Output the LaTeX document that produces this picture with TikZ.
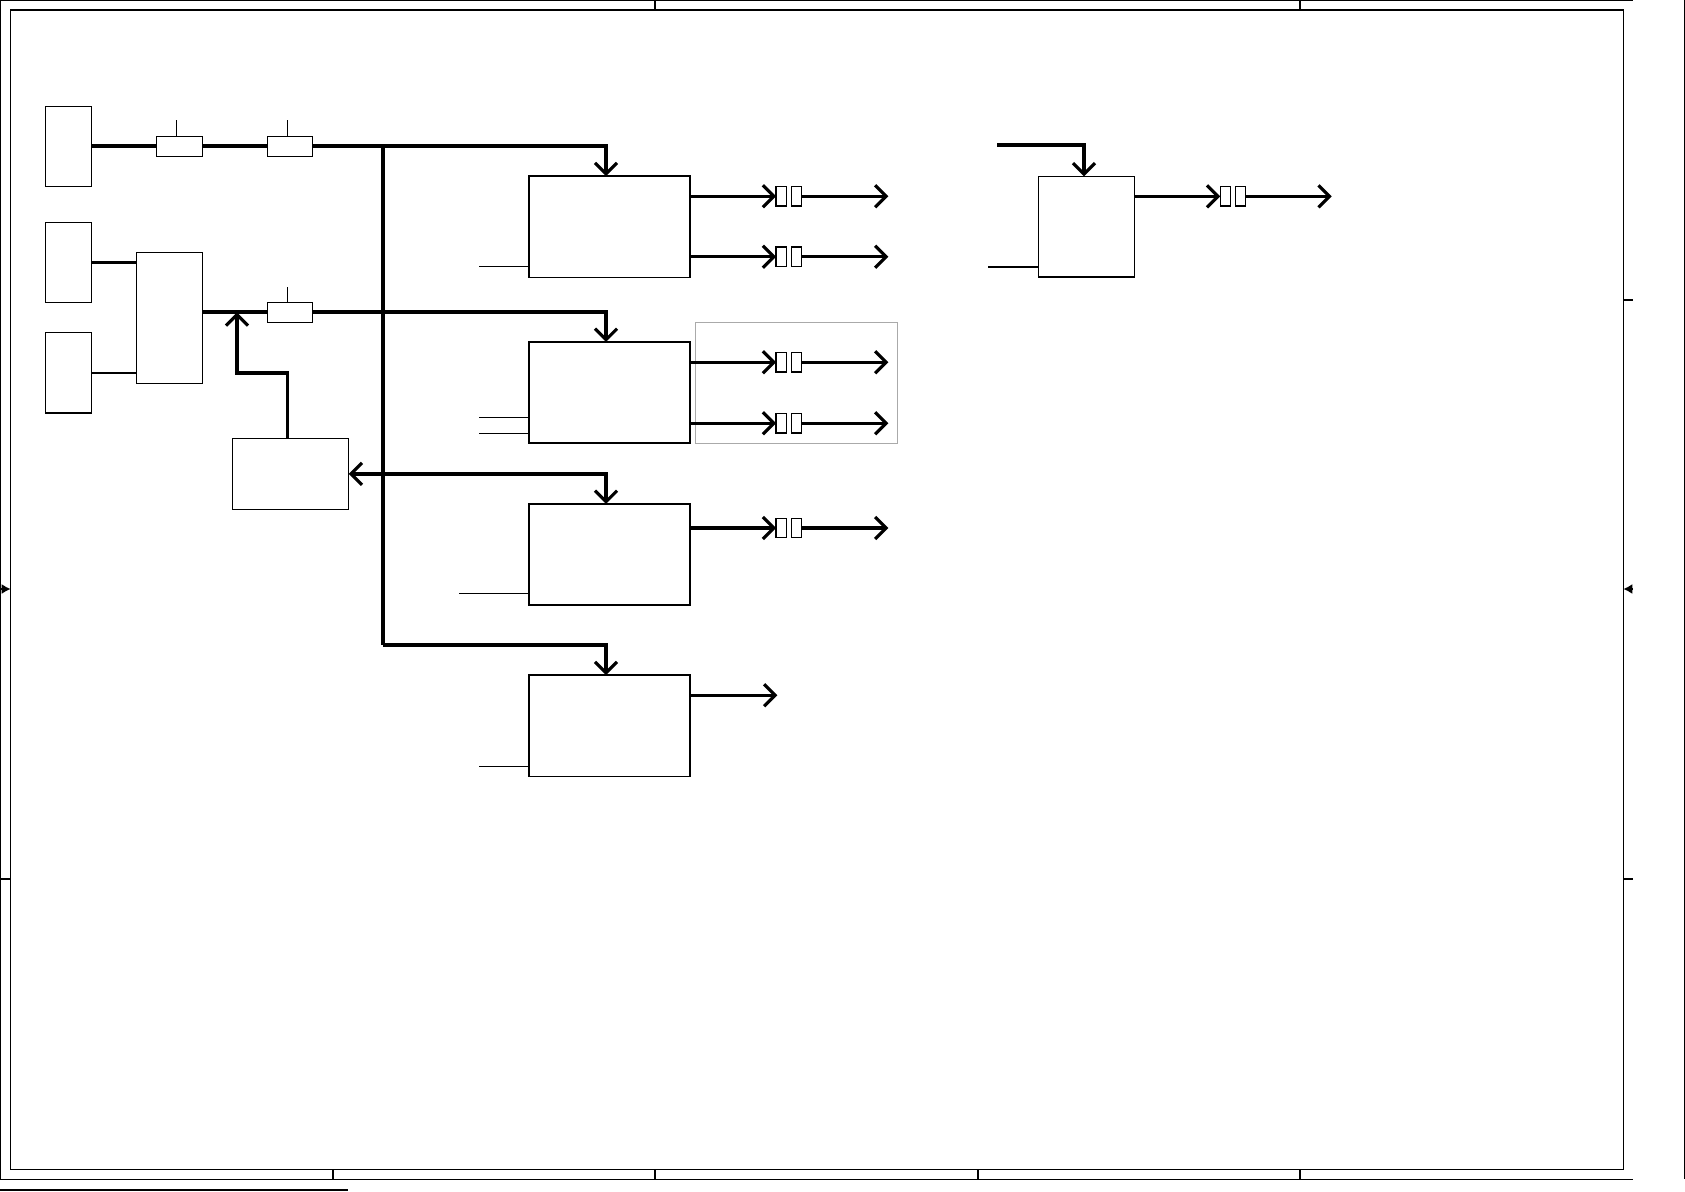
\documentclass[tikz,border=0pt]{standalone}
\usepackage{xcolor}
\usepackage{tikz}
\usetikzlibrary{arrows.meta}
\definecolor{GroupGray}{HTML}{AAAAAA}

\begin{document}
\begin{tikzpicture}[
  x=0.01cm, y=-0.01cm,
  blk/.style={rectangle, draw, line width=0.4pt, inner sep=0pt, outer sep=0pt, fill=white},
  src/.style={blk, minimum width=0.464cm, minimum height=0.8cm},
  res/.style={blk, minimum width=0.45cm, minimum height=0.2cm},
  unit/.style={blk, minimum width=1.61cm, minimum height=1.01cm},
  gap/.style={blk, line width=0.35pt, minimum width=0.105cm, minimum height=0.196cm},
  bus/.style={line width=1.1pt},
  sig/.style={line width=0.9pt},
  arrow/.style={sig, -{Straight Barb[length=1.1mm, width=2.2mm, line width=0.9pt]}},
  stub/.style={line width=0.4pt},
  frame/.style={line width=0.45pt}
]
\useasboundingbox (0,0) rectangle (1685,1191);

\draw[frame] (0,0.5) -- (1633,0.5);
\draw[frame] (0,1179.3) -- (1633,1179.3);
\draw[frame] (0.5,0) -- (0.5,1179.3);
\draw[frame] (1684.3,0) -- (1684.3,1179.3);
\draw[frame] (10.7,10) rectangle (1623.3,1169.3);
\draw[frame] (655,0) -- (655,10);
\draw[frame] (1300,0) -- (1300,10);
\draw[frame] (333,1169.3) -- (333,1179.3);
\draw[frame] (655,1169.3) -- (655,1179.3);
\draw[frame] (978,1169.3) -- (978,1179.3);
\draw[frame] (1300,1169.3) -- (1300,1179.3);
\draw[frame] (1623.3,300) -- (1633,300);
\draw[frame] (1623.3,879) -- (1633,879);
\draw[frame] (0,879) -- (10.7,879);
\draw[frame, -{Latex[length=0.9mm, width=1mm]}] (0,589) -- (10.7,589);
\draw[frame, -{Latex[length=0.9mm, width=1mm]}] (1633,589) -- (1623.3,589);
\draw[line width=0.7pt] (0,1190) -- (348,1190);

\node[src] (srcA) at (68.5,146.3) {};
\node[src] (srcB) at (68.5,262.3) {};
\node[src] (srcC) at (68.5,372.8) {};
\node[blk, minimum width=0.66cm, minimum height=1.31cm] (mux) at (169.3,317.8) {};
\node[blk, minimum width=1.164cm, minimum height=0.71cm] (ctrl) at (290.5,473.8) {};
\node[res, minimum width=0.46cm] (resA) at (179.3,146.3) {};
\node[res] (resB) at (289.8,146.3) {};
\node[res] (resC) at (289.8,312.3) {};
\coordinate (busTop) at (383.3,146.3);
\coordinate (busBot) at (383.3,644.7);
\coordinate (tap) at (237,312.3);

\node[unit] (unitA) at (609.5,226.7) {};
\node[unit] (unitB) at (609.5,392.5) {};
\node[unit] (unitC) at (609.5,554.5) {};
\node[unit] (unitD) at (609.5,725.7) {};
\node[blk, minimum width=0.96cm, minimum height=1.007cm] (unitE) at (1086.3,226.7) {};
\coordinate (feedE) at (997.3,145.3);

\node[draw=GroupGray, line width=0.4pt, inner sep=0pt, minimum width=2.02cm, minimum height=1.21cm] (group) at (796.3,382.8) {};

\node[gap] (gapA1) at (781.3,196.3) {};
\node[gap] (gapA2) at (796.5,196.3) {};
\node[gap] (gapB1) at (781.3,256.7) {};
\node[gap] (gapB2) at (796.5,256.7) {};
\node[gap] (gapC1) at (781.3,362.3) {};
\node[gap] (gapC2) at (796.5,362.3) {};
\node[gap] (gapD1) at (781.3,423.3) {};
\node[gap] (gapD2) at (796.5,423.3) {};
\node[gap] (gapE1) at (781.3,528) {};
\node[gap] (gapE2) at (796.5,528) {};
\node[gap] (gapF1) at (1225.5,196.3) {};
\node[gap] (gapF2) at (1240.5,196.3) {};
\coordinate (outA) at (888.3,196.3);
\coordinate (outB) at (888.3,256.7);
\coordinate (outC) at (888.3,362.3);
\coordinate (outD) at (888.3,423.3);
\coordinate (outE) at (888.3,528);
\coordinate (outF) at (777.3,695.3);
\coordinate (outG) at (1331.7,196.3);

\draw[stub] ([xshift=-0.03cm]resA.north) -- ++(0,-16);
\draw[stub] ([xshift=-0.025cm]resB.north) -- ++(0,-16);
\draw[stub] ([xshift=-0.025cm]resC.north) -- ++(0,-15.3);

\draw[bus] (srcA.east) -- (resA.west);
\draw[bus] (resA.east) -- (resB.west);
\draw[sig] (srcB.east) -- (srcB.east -| mux.west);
\draw[line width=0.6pt] (srcC.east) -- (srcC.east -| mux.west);
\draw[bus] (mux.east |- resC.west) -- (resC.west);
\draw[bus] (busTop) -- (busBot);
\draw[arrow, bus] (resB.east) -| ([xshift=-0.035cm]unitA.north);
\draw[arrow, bus] (resC.east) -| ([xshift=-0.035cm]unitB.north);
\draw[arrow, bus] (busTop |- ctrl.east) -- (ctrl.east);
\draw[arrow, bus] (busTop |- ctrl.east) -| ([xshift=-0.035cm]unitC.north);
\draw[arrow, bus] (busBot) -| ([xshift=-0.035cm]unitD.north);
\draw[arrow] ([xshift=-0.03cm]ctrl.north) -- ++(0,-65.3) -| (tap);
\draw[arrow, bus] (feedE) -| ([xshift=-0.023cm]unitE.north);

\draw[stub] (unitA.south west) ++(0,-10.7) -- ++(-49.7,0);
\draw[stub] (unitB.south west) ++(0,-25.8) -- ++(-49.7,0);
\draw[stub] (unitB.south west) ++(0,-9.6) -- ++(-49.7,0);
\draw[stub] (unitC.south west) ++(0,-11.8) -- ++(-70,0);
\draw[stub] (unitD.south west) ++(0,-10) -- ++(-49.7,0);
\draw[stub] (unitE.south west) ++(0,-10) -- ++(-50.6,0);

\draw[arrow] (unitA.east |- gapA1.west) -- (gapA1.west);
\draw[arrow] (gapA2.east) -- (outA);
\draw[arrow] (unitA.east |- gapB1.west) -- (gapB1.west);
\draw[arrow] (gapB2.east) -- (outB);
\draw[arrow] (unitB.east |- gapC1.west) -- (gapC1.west);
\draw[arrow] (gapC2.east) -- (outC);
\draw[arrow] (unitB.east |- gapD1.west) -- (gapD1.west);
\draw[arrow] (gapD2.east) -- (outD);
\draw[arrow] (unitC.east |- gapE1.west) -- (gapE1.west);
\draw[arrow] (gapE2.east) -- (outE);
\draw[arrow] (unitD.east |- outF) -- (outF);
\draw[arrow] (unitE.east |- gapF1.west) -- (gapF1.west);
\draw[arrow] (gapF2.east) -- (outG);
\end{tikzpicture}
\end{document}
